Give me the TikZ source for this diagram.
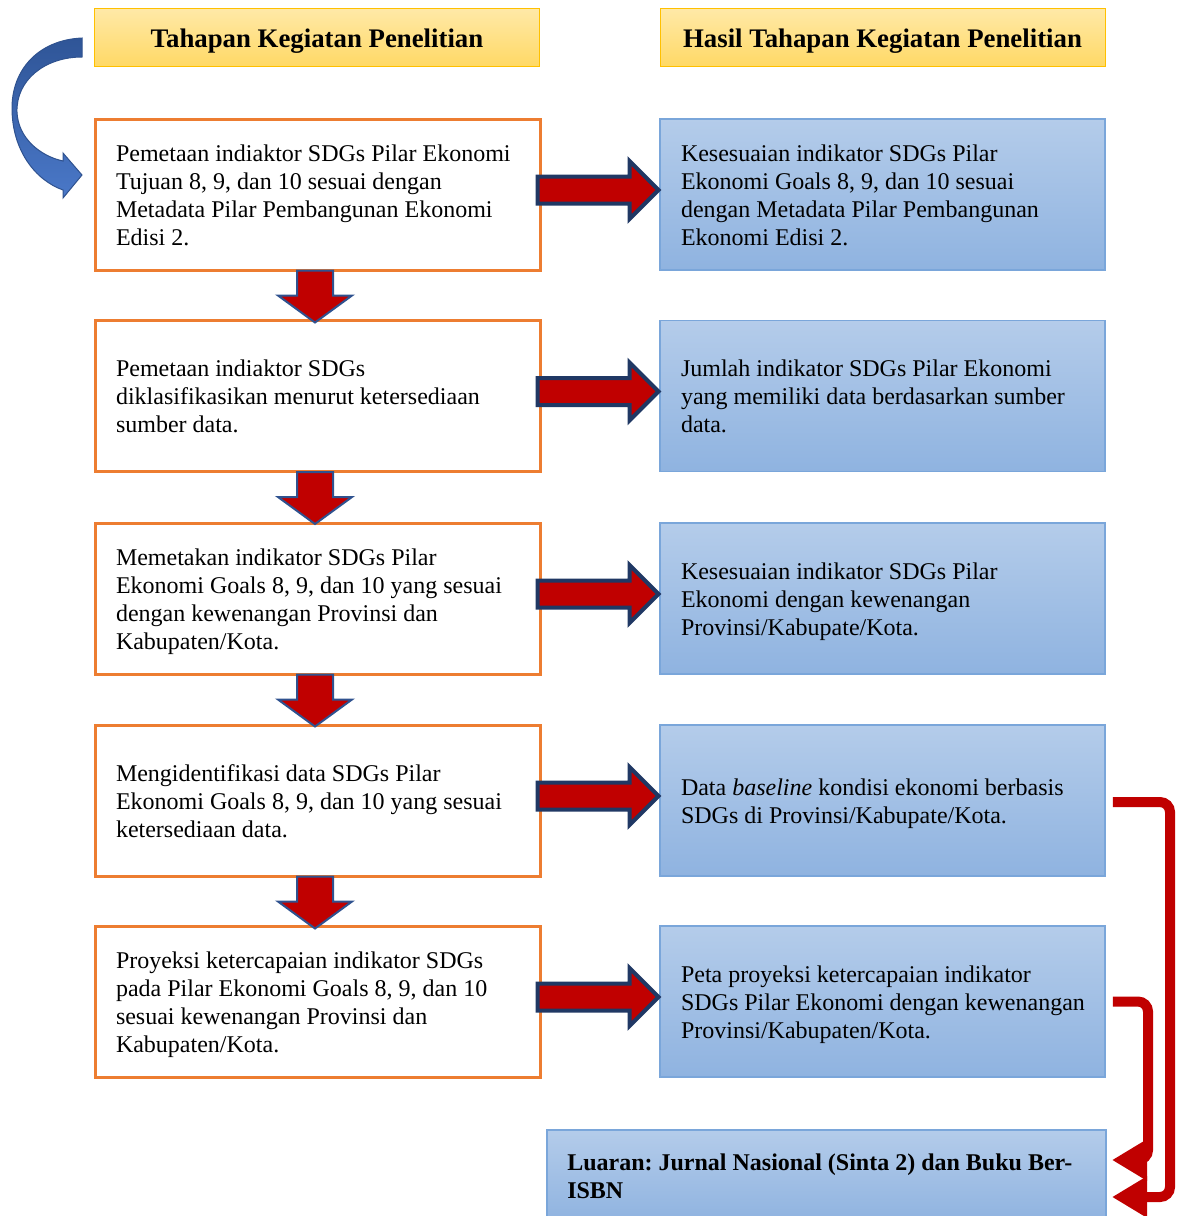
\documentclass[tikz,border=0pt]{standalone}
\usepackage{fontspec}
\setmainfont{Liberation Serif}
\usetikzlibrary{arrows.meta,calc}
\definecolor{orng}{HTML}{ED7D31}
\definecolor{hdrTop}{HTML}{FFE9A8}
\definecolor{hdrBot}{HTML}{FFD966}
\definecolor{hdrLine}{HTML}{FFC000}
\definecolor{bTop}{HTML}{B4CCEA}
\definecolor{bBot}{HTML}{8FB3E0}
\definecolor{bLine}{HTML}{7AA6DA}
\definecolor{arrRed}{HTML}{C00000}
\definecolor{navyA}{HTML}{203864}
\definecolor{navyB}{HTML}{2F528F}
\definecolor{cTop}{HTML}{2F5597}
\definecolor{cBot}{HTML}{4A78C8}
\newcommand\boxlines[2]{\makebox[#1][l]{\raisebox{-3pt}[\height][\depth]{\begin{tabular}{@{}l@{}}#2\end{tabular}}}}
\frenchspacing
\begin{document}
\begin{tikzpicture}[x=1pt,y=-1pt,
  txt/.style={font=\fontsize{24}{28}\selectfont},
  hdr/.style={draw=hdrLine, line width=1pt, top color=hdrTop, bottom color=hdrBot,
    minimum width=445pt, minimum height=58pt, inner sep=0pt,
    text height=22pt, text depth=2pt,
    font=\bfseries\fontsize{26.8}{30}\selectfont},
  stepbox/.style={txt, draw=orng, line width=3pt, fill=white,
    inner xsep=21pt, inner ysep=0pt, minimum width=445pt, minimum height=151pt},
  resbox/.style={txt, draw=bLine, line width=1.5pt, top color=bTop, bottom color=bBot,
    inner xsep=21pt, inner ysep=0pt, minimum width=445pt, minimum height=151pt},
  rarrow/.style={fill=arrRed, draw=navyA, line width=4pt, line join=miter},
  darrow/.style={fill=arrRed, draw=navyB, line width=2pt, line join=miter},
  conn/.style={draw=arrRed, line width=10pt, rounded corners=10pt,
    -{Triangle[length=35pt,width=39pt]}}
]
\useasboundingbox (0,0) rectangle (1176,1216);

% headers
\node[hdr] (h1) at (317,37) {Tahapan Kegiatan Penelitian};
\node[hdr] (h2) at (882.5,37) {Hasil Tahapan Kegiatan Penelitian};

% left step boxes
\node[stepbox] (l1) at (317.5,194.5) {\boxlines{403pt}{Pemetaan indiaktor SDGs Pilar Ekonomi\\ Tujuan 8, 9, dan 10 sesuai dengan\\ Metadata Pilar Pembangunan Ekonomi\\ Edisi 2.}};
\node[stepbox] (l2) at (317.5,396) {\boxlines{403pt}{Pemetaan indiaktor SDGs\\ diklasifikasikan menurut ketersediaan\\ sumber data.}};
\node[stepbox] (l3) at (317.5,598.5) {\boxlines{403pt}{Memetakan indikator SDGs Pilar\\ Ekonomi Goals 8, 9, dan 10 yang sesuai\\ dengan kewenangan Provinsi dan\\ Kabupaten/Kota.}};
\node[stepbox] (l4) at (317.5,800.5) {\boxlines{403pt}{Mengidentifikasi data SDGs Pilar\\ Ekonomi Goals 8, 9, dan 10 yang sesuai\\ ketersediaan data.}};
\node[stepbox] (l5) at (317.5,1001.5) {\boxlines{403pt}{Proyeksi ketercapaian indikator SDGs\\ pada Pilar Ekonomi Goals 8, 9, dan 10\\ sesuai kewenangan Provinsi dan\\ Kabupaten/Kota.}};

% right result boxes
\node[resbox] (r1) at (882.5,194.5) {\boxlines{403pt}{Kesesuaian indikator SDGs Pilar\\ Ekonomi Goals 8, 9, dan 10 sesuai\\ dengan Metadata Pilar Pembangunan\\ Ekonomi Edisi 2.}};
\node[resbox] (r2) at (882.5,396) {\boxlines{403pt}{Jumlah indikator SDGs Pilar Ekonomi\\ yang memiliki data berdasarkan sumber\\ data.}};
\node[resbox] (r3) at (882.5,598.5) {\boxlines{403pt}{Kesesuaian indikator SDGs Pilar\\ Ekonomi dengan kewenangan\\ Provinsi/Kabupate/Kota.}};
\node[resbox] (r4) at (882.5,800.5) {\boxlines{403pt}{Data \textit{baseline} kondisi ekonomi berbasis\\ SDGs di Provinsi/Kabupate/Kota.}};
\node[resbox] (r5) at (882.5,1001.5) {\boxlines{403pt}{Peta proyeksi ketercapaian indikator\\ SDGs Pilar Ekonomi dengan kewenangan\\ Provinsi/Kabupaten/Kota.}};

% output box
\node[draw=bLine, line width=1.5pt, top color=bTop, bottom color=bBot,
  inner xsep=20.5pt, inner ysep=0pt, minimum width=559pt, minimum height=92pt,
  anchor=north west, font=\bfseries\fontsize{24}{28}\selectfont] (out) at (546,1129)
  {\boxlines{518pt}{Luaran: Jurnal Nasional (Sinta 2) dan Buku Ber-\\ ISBN}};

% right block arrows
\foreach \n in {l1,l2,l3,l4,l5}{
  \draw[rarrow, shift={(\n.east)}] (-4,-18) -- (88,-18) -- (88,-33.5) -- (117,-4.5)
    -- (88,24.5) -- (88,9) -- (-4,9) -- cycle;
}
% down block arrows
\foreach \n in {l1,l2,l3,l4}{
  \draw[darrow, shift={(\n.south)}] (-20.5,-1) -- (15.5,-1) -- (15.5,24) -- (34.5,24)
    -- (-2.5,51) -- (-39.5,24) -- (-20.5,24) -- cycle;
}

% curved arrow top-left
\draw[draw=navyB, line width=1pt, top color=cTop, bottom color=cBot]
  (82,38) .. controls (38,40) and (12,70) .. (12,108)
  .. controls (12,150) and (35,180) .. (63,190)
  -- (63,198) -- (82,175) -- (63,153) -- (63,161)
  .. controls (40,156) and (18,138) .. (17,112)
  .. controls (16,80) and (45,57) .. (82,57) -- cycle;

% connectors to output
\coordinate (t1) at (1112,1197);
\coordinate (t2) at (1112,1160);
\draw[conn] ([xshift=7pt,yshift=-1.5pt]r4.east) -| ([xshift=58pt]t1) -- (t1);
\draw[conn] ([xshift=7pt]r5.east) -| ([xshift=36pt]t2) -- (t2);
\end{tikzpicture}
\end{document}
